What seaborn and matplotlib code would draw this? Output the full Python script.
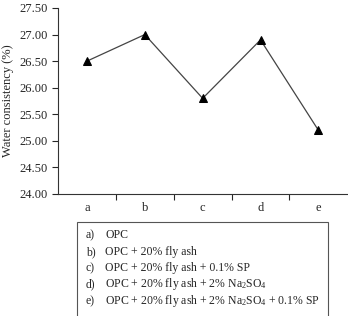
import matplotlib
matplotlib.use("Agg")
import matplotlib.pyplot as plt
import seaborn as sns
import pandas as pd
from matplotlib.patches import Rectangle

categories = ["a", "b", "c", "d", "e"]
values = [26.5, 27.0, 25.8, 26.9, 25.2]
yticks = [24.00, 24.50, 25.00, 25.50, 26.00, 26.50, 27.00, 27.50]
legend_labels = [
    ("a)", "OPC"),
    ("b)", "OPC + 20% fly ash"),
    ("c)", "OPC + 20% fly ash + 0.1% SP"),
    ("d)", "OPC + 20% fly ash + 2% Na$_2$SO$_4$"),
    ("e)", "OPC + 20% fly ash + 2% Na$_2$SO$_4$ + 0.1% SP"),
]

sns.set_style("ticks")
plt.rcParams["font.family"] = ["Liberation Serif", "DejaVu Serif"]
plt.rcParams["mathtext.fontset"] = "custom"
plt.rcParams["mathtext.rm"] = "Liberation Serif"
plt.rcParams["mathtext.it"] = "Liberation Serif"

df = pd.DataFrame({"cat": categories, "val": values})
df["x"] = range(len(categories))

fig = plt.figure(figsize=(3.48, 3.16), dpi=100)
ax = fig.add_axes([58/348, 1-194/316, 1-58/348-0.002, (194-8)/316])
sns.lineplot(data=df, x="x", y="val", ax=ax, color="#444444", linewidth=0.9,
             marker="^", markersize=6, markerfacecolor="black",
             markeredgecolor="black")
ax.set_xlim(-0.5, 4.5)
ax.set_ylim(24.0, 27.5)
ax.set_yticks(yticks)
ax.set_yticklabels([f"{v:.2f}" for v in yticks], fontsize=9)
ax.set_xticks(range(len(categories)))
ax.set_xticklabels(categories, fontsize=9)
ax.tick_params(axis="x", which="major", length=0, pad=6)
ax.set_xticks([0.5, 1.5, 2.5, 3.5], minor=True)
ax.tick_params(axis="x", which="minor", length=4, width=0.8, direction="out")
ax.tick_params(axis="y", length=4, width=0.8, direction="out")
ax.set_xlabel("")
ax.set_ylabel("Water consistency (%)", fontsize=9)
for s in ["top", "right"]:
    ax.spines[s].set_visible(False)
for s in ["left", "bottom"]:
    ax.spines[s].set_linewidth(0.8)
    ax.spines[s].set_color("#333333")

# legend box
x0, x1 = 77/348, 328/348
y_top = 1 - 222/316
rect = Rectangle((x0, -0.01), x1 - x0, y_top + 0.01, transform=fig.transFigure,
                 fill=False, edgecolor="#555555", linewidth=0.8)
fig.patches.append(rect)
ys = [235, 252, 268, 284, 301]
for (lab, txt), yy in zip(legend_labels, ys):
    fig.text(86/348, 1 - yy/316, lab, fontsize=8.5, va="center", ha="left")
    fig.text(105/348, 1 - yy/316, txt, fontsize=8.5, va="center", ha="left")

fig.savefig("out.png", dpi=100)
